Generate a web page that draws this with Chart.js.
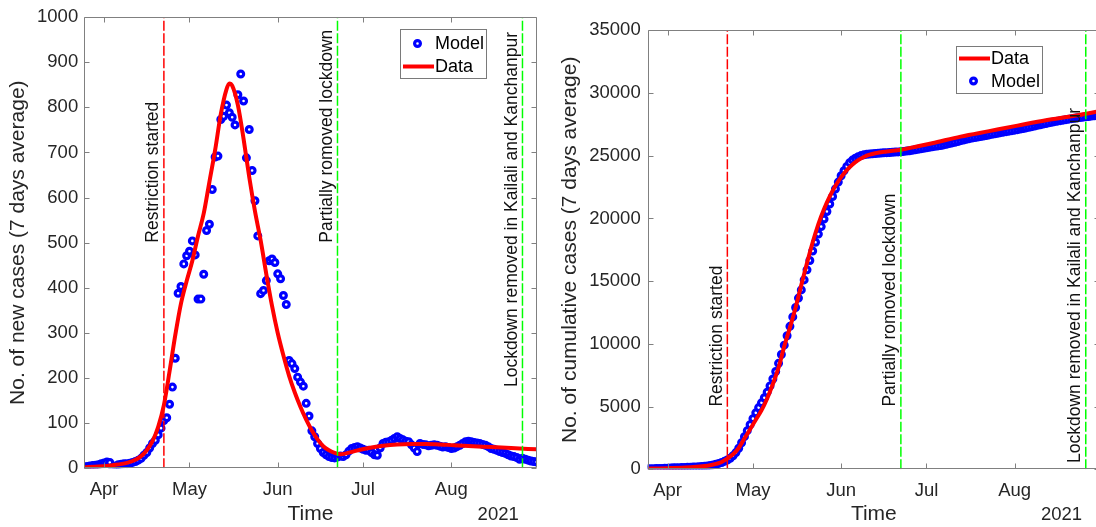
<!DOCTYPE html>
<html><head><meta charset="utf-8">
<script src="https://cdn.jsdelivr.net/npm/chart.js@4.4.0/dist/chart.umd.min.js"></script>
<style>
html,body{margin:0;padding:0;background:#fff;overflow:hidden;width:1096px;height:527px;position:relative;}
#c1{position:absolute;left:0;top:0;}
#c2{position:absolute;left:548px;top:0;}
</style></head><body>
<canvas id="c1" width="548" height="527"></canvas>
<canvas id="c2" width="580" height="527"></canvas>
<script>
// ---- x axis: day index, 0 = 25 Mar 2021, 159 = 31 Aug 2021 ----
const tickDays = [7, 37, 68, 98, 129];
const tickLabels = ['Apr', 'May', 'Jun', 'Jul', 'Aug'];
const yearLabel = '2021';
const eventDays = [28, 89, 154];
const eventLabels = ['Restriction started', 'Partially romoved lockdown', 'Lockdown removed in Kailali and Kanchanpur'];
const newLabelAt = [500, 500, 180];
const cumLabelAt = [5000, 5000, 500];
const newTicksY = [0, 1000, 100];
const cumTicksY = [0, 35000, 5000];

// ---- left: new cases (7-day average) ----
const newModel = [3,4,5,6,7,8,10,12,14,13,2,5,8,9,10,10,11,13,15,18,
22,29,35,45,55,62,74,89,106,112,142,180,244,388,403,453,471,481,504,473,
375,375,430,527,541,618,690,692,773,780,805,788,778,761,828,874,814,688,751,660,
593,515,387,394,416,460,464,456,431,420,383,363,239,232,221,202,191,182,144,116,
83,70,55,44,35,30,26,24,23,25,27,26,30,38,44,46,48,45,42,40,
40,35,30,29,45,55,58,59,62,66,70,66,63,60,59,52,45,37,55,53,
52,50,51,52,51,49,47,48,46,44,45,48,51,55,59,60,59,57,56,55,
53,51,48,44,42,40,37,35,33,30,27,26,24,20,22,20,18,16,15,14];
const newDataDays = [0,5,10,15,18,20,22,24,26,28,30,32,34,36,38,40,42,44,46,48,50,51,52,54,56,58,60,62,64,66,68,70,72,74,76,78,80,82,84,86,88,90,92,95,100,105,110,115,120,125,130,140,150,159];
const newDataVals = [2,4,7,12,19,27,40,60,92,140,215,295,365,415,460,515,565,635,705,785,840,853,848,805,730,645,570,505,430,360,300,250,205,168,136,108,84,64,49,40,34,31,33,38,45,50,53,54,54,53,51,48,45,42];

// ---- right: cumulative cases (7-day average) ----
const cumModel = [40,45,50,56,63,71,81,93,107,120,122,127,135,144,154,164,175,188,203,221,
243,272,307,352,407,469,543,632,738,880,1080,1330,1680,2120,2600,3080,3560,4040,4500,4920,
5300,5700,6150,6650,7200,7800,8450,9150,9900,10650,11400,12150,12900,13650,14300,15100,15900,16650,17400,18100,
18750,19350,19950,20550,21150,21750,22350,22900,23400,23800,24150,24450,24650,24800,24920,25010,25070,25110,25140,25160,
25180,25200,25215,25230,25245,25260,25275,25290,25305,25320,25345,25370,25400,25435,25475,25515,25560,25600,25640,25680,
25720,25755,25785,25815,25860,25910,25965,26020,26075,26135,26200,26255,26310,26360,26410,26455,26495,26525,26570,26615,
26660,26705,26750,26795,26840,26880,26920,26960,27000,27040,27080,27125,27170,27220,27270,27320,27370,27420,27470,27520,
27570,27625,27670,27715,27755,27795,27835,27875,27915,27955,27990,28020,28050,28075,28100,28130,28160,28190,28220,28250];
const cumDataDays = [0,4,8,12,16,20,22,24,26,28,30,32,34,36,38,40,42,44,46,48,50,52,54,56,58,60,62,64,66,68,70,72,74,76,78,80,84,89,95,100,110,120,130,140,150,159];
const cumDataVals = [50,65,95,130,180,260,330,430,580,860,1200,1700,2450,3200,3950,4700,5650,6800,8100,9800,11300,12900,14700,16450,18100,19550,20750,21750,22600,23300,23850,24300,24650,24900,25080,25200,25340,25480,25760,26000,26520,26960,27400,27830,28180,28560];

const FONT = '"Liberation Sans", Arial, Helvetica, sans-serif';
const TEXT = '#262626';
const AXIS = '#808080';
Chart.defaults.font.family = FONT;
Chart.defaults.color = TEXT;

const overlay = {
  id: 'overlay',
  afterDraw(chart, args, o) {
    const ctx = chart.ctx, xs = chart.scales.x, ys = chart.scales.y, a = chart.chartArea;
    ctx.save();
    // frame + inward ticks
    ctx.strokeStyle = AXIS; ctx.lineWidth = 1;
    const L = Math.round(a.left) + 0.5, R = Math.round(a.right) - 0.5, T = Math.round(a.top) + 0.5, B = Math.round(a.bottom) - 0.5;
    ctx.beginPath();
    ctx.rect(L, T, R - L, B - T);
    tickDays.forEach(d => {
      const x = Math.round(xs.getPixelForValue(d)) + 0.5;
      ctx.moveTo(x, B); ctx.lineTo(x, B - 5);
      ctx.moveTo(x, T); ctx.lineTo(x, T + 5);
    });
    ys.ticks.forEach(t => {
      const y = Math.round(ys.getPixelForValue(t.value)) + 0.5;
      ctx.moveTo(L, y); ctx.lineTo(L + 5, y);
      ctx.moveTo(R, y); ctx.lineTo(R - 5, y);
    });
    ctx.stroke();
    // event annotations
    ctx.fillStyle = '#111';
    ctx.font = '17.5px ' + FONT;
    eventDays.forEach((d, i) => {
      const x = xs.getPixelForValue(d) - 1.5;
      const y = ys.getPixelForValue(o.labelAt[i]);
      ctx.save(); ctx.translate(x, y); ctx.rotate(-Math.PI / 2);
      ctx.textAlign = 'left'; ctx.textBaseline = 'bottom';
      ctx.fillText(eventLabels[i], 0, 0);
      ctx.restore();
    });
    // year label
    ctx.fillStyle = TEXT; ctx.font = '18.5px ' + FONT;
    ctx.textAlign = 'center'; ctx.textBaseline = 'middle';
    ctx.fillText(yearLabel, a.right - 38.5, 515);
    // legend
    const lg = o.legend;
    ctx.fillStyle = '#fff'; ctx.fillRect(lg.x, lg.y, lg.w, lg.h);
    ctx.strokeStyle = '#7a7a7a'; ctx.lineWidth = 1;
    ctx.strokeRect(Math.round(lg.x) + 0.5, Math.round(lg.y) + 0.5, lg.w, lg.h);
    ctx.font = '18px ' + FONT; ctx.textAlign = 'left'; ctx.textBaseline = 'middle';
    lg.items.forEach(it => {
      const ds = chart.data.datasets[it.ds];
      if (it.kind === 'line') {
        ctx.strokeStyle = ds.borderColor; ctx.lineWidth = ds.borderWidth;
        ctx.beginPath(); ctx.moveTo(lg.x + 3, it.y); ctx.lineTo(lg.x + 34, it.y); ctx.stroke();
      } else {
        ctx.strokeStyle = ds.pointBorderColor; ctx.lineWidth = ds.pointBorderWidth;
        ctx.fillStyle = ds.pointBackgroundColor;
        ctx.beginPath(); ctx.arc(lg.x + 17.5, it.y, ds.pointRadius, 0, Math.PI * 2); ctx.fill(); ctx.stroke();
      }
      ctx.fillStyle = '#000';
      ctx.fillText(ds.label, lg.x + 35, it.y + 1);
    });
    ctx.restore();
  }
};

function build(id, cfg) {
  const datasets = [
    { label: 'Data', data: cfg.dataDays.map((d, i) => ({ x: d, y: cfg.dataVals[i] })),
      borderColor: '#ff0000', borderWidth: 4, pointRadius: 0, cubicInterpolationMode: 'monotone', order: 1 },
    { label: 'Model', data: cfg.model.map((v, i) => ({ x: i, y: v })), showLine: false,
      pointStyle: 'circle', pointRadius: 2.9, pointBorderWidth: 3.2, pointBorderColor: '#0000ff',
      pointBackgroundColor: '#ffffff', order: 2 }
  ];
  eventDays.forEach((d, i) => {
    datasets.push({ label: 'ev' + i, data: [{ x: d, y: cfg.ticksY[0] }, { x: d, y: cfg.ticksY[1] }],
      borderColor: i === 0 ? '#ff0000' : '#00ff00', borderWidth: 1.5, borderDash: [10, 2.5],
      pointRadius: 0, order: 0 });
  });
  return new Chart(document.getElementById(id), {
    type: 'line',
    data: { datasets },
    plugins: [overlay],
    options: {
      responsive: false, animation: false, events: [], devicePixelRatio: 1,
      layout: { padding: { left: 0, right: cfg.padR, top: cfg.padT, bottom: 0 } },
      plugins: { legend: { display: false }, tooltip: { enabled: false },
        overlay: { labelAt: cfg.labelAt, legend: cfg.legend } },
      scales: {
        x: { type: 'linear', min: 0, max: 159,
          afterBuildTicks: s => { s.ticks = tickDays.map(v => ({ value: v })); },
          ticks: { callback: v => tickLabels[tickDays.indexOf(v)] || '', autoSkip: false, maxRotation: 0,
            padding: 11, font: { size: 18.5 }, color: TEXT },
          grid: { display: false, drawTicks: false }, border: { display: false },
          title: { display: true, text: 'Time', font: { size: 21 }, color: TEXT, padding: { top: 0, bottom: 0 } },
          afterFit: s => { s.height = cfg.xH; } },
        y: { min: cfg.ticksY[0], max: cfg.ticksY[1],
          ticks: { stepSize: cfg.ticksY[2], callback: v => String(v), padding: cfg.yPad, font: { size: 18.5 }, color: TEXT },
          grid: { display: false, drawTicks: false }, border: { display: false },
          title: { display: true, text: cfg.ytitle, font: { size: 21 }, color: TEXT, padding: { top: cfg.yTitlePad, bottom: 0 } },
          afterFit: s => { s.width = cfg.yW; } }
      }
    }
  });
}

build('c1', { model: newModel, dataDays: newDataDays, dataVals: newDataVals, ticksY: newTicksY,
  labelAt: newLabelAt, ytitle: 'No. of new cases (7 days average)',
  padR: 11.3, padT: 15.7, xH: 58.7, yW: 84.2, yPad: 6, yTitlePad: 6,
  legend: { x: 400, y: 29, w: 86, h: 49, items: [{ ds: 1, kind: 'point', y: 43.5 }, { ds: 0, kind: 'line', y: 66.5 }] } });

build('c2', { model: cumModel, dataDays: cumDataDays, dataVals: cumDataVals, ticksY: cumTicksY,
  labelAt: cumLabelAt, ytitle: 'No. of cumulative cases (7 days average)',
  padR: 28, padT: 30.3, xH: 57.7, yW: 99.7, yPad: 7, yTitlePad: 10,
  legend: { x: 408, y: 46, w: 86, h: 47, items: [{ ds: 0, kind: 'line', y: 58.5 }, { ds: 1, kind: 'point', y: 81 }] } });
</script>
</body></html>
